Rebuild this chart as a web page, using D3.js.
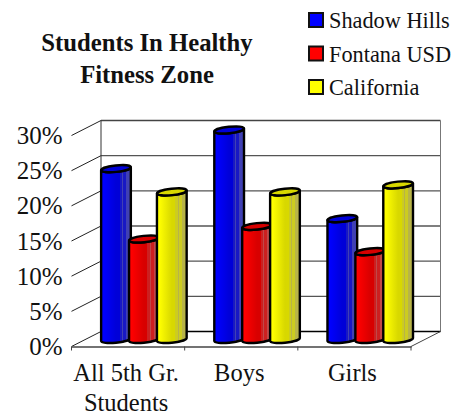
<!DOCTYPE html>
<html>
<head>
<meta charset="utf-8">
<script src="https://cdnjs.cloudflare.com/ajax/libs/d3/7.8.5/d3.min.js"></script>
<style>
  body { margin: 0; background: #fff; }
  text { font-family: "Liberation Serif", serif; fill: #111; }
</style>
</head>
<body>
<div id="wrapper"></div>
<script>
const categories = ["All 5th Gr.|Students", "Boys", "Girls"]
const seriesNames = ["Shadow Hills", "Fontana USD", "California"]
const shadowHills = [24.5, 30, 17.4]
const fontanaUsd = [14.5, 16.3, 12.7]
const california = [21.2, 21.2, 22.2]
const yTicks = [0, 5, 10, 15, 20, 25, 30]
const titleLines = ["Students In Healthy", "Fitness Zone"]

const seriesValues = [shadowHills, fontanaUsd, california]

const width = 464
const height = 414
const depthX = 29.5
const depthY = 15

const wrapper = d3.select("#wrapper")
  .append("svg")
    .attr("width", width)
    .attr("height", height)
    .style("display", "block")

const xScale = d3.scaleBand()
  .domain(categories)
  .range([71.5, 411])

const seriesScale = d3.scaleBand()
  .domain(seriesNames)
  .range([xScale.bandwidth() * 0.26, xScale.bandwidth()])

const yScale = d3.scaleLinear()
  .domain([0, 30])
  .range([346.5, 135.5])

// gradients for the cylinders
const shades = {
  "Shadow Hills": ["#0000ff", "#0000d8", "#1818c4", "#4040b4"],
  "Fontana USD": ["#ff0000", "#d80000", "#cc2020", "#c04848"],
  "California": ["#ffff00", "#d8d800", "#cccc20", "#b8b448"]
}
const defs = wrapper.append("defs")
seriesNames.forEach((name, i) => {
  const s = shades[name]
  const stops = [
    [0, s[0]], [0.08, s[0]], [0.5, s[1]], [0.62, s[1]], [0.62, s[2]],
    [0.7, s[2]], [0.7, s[3]], [0.74, s[3]], [0.74, s[2]], [0.84, s[2]],
    [0.84, s[3]], [1, s[3]]
  ]
  defs.append("linearGradient")
    .attr("id", `shade${i}`)
    .selectAll("stop")
    .data(stops)
    .enter().append("stop")
      .attr("offset", d => d[0])
      .attr("stop-color", d => d[1])
})

// back wall and floor
const wall = wrapper.append("g")
const left = xScale.range()[0]
const right = xScale.range()[1]

wall.selectAll(".grid")
  .data(yTicks.filter(d => d > 0 && d < 30))
  .enter().append("line")
    .attr("class", "grid")
    .attr("x1", left + depthX)
    .attr("x2", right + depthX)
    .attr("y1", d => yScale(d) - depthY)
    .attr("y2", d => yScale(d) - depthY)
    .attr("stroke", "#555")
    .attr("stroke-width", 1.3)

wall.selectAll(".side")
  .data(yTicks)
  .enter().append("line")
    .attr("class", "side")
    .attr("x1", left)
    .attr("x2", left + depthX)
    .attr("y1", d => yScale(d))
    .attr("y2", d => yScale(d) - depthY)
    .attr("stroke", "#222")
    .attr("stroke-width", 1)

const backLine = (x1, y1, x2, y2, color, w) => wall.append("line")
  .attr("x1", x1).attr("y1", y1).attr("x2", x2).attr("y2", y2)
  .attr("stroke", color).attr("stroke-width", w)

backLine(left + depthX, yScale(30) - depthY, right + depthX, yScale(30) - depthY, "#444", 1.6)
backLine(left + depthX, yScale(30) - depthY, left + depthX, yScale(0) - depthY, "#333", 1)
backLine(right + depthX, yScale(30) - depthY, right + depthX, yScale(0) - depthY, "#777", 1)
backLine(left + depthX, yScale(0) - depthY, right + depthX, yScale(0) - depthY, "#000", 1.6)
backLine(right, yScale(0), right + depthX, yScale(0) - depthY, "#444", 1)

// cylinders
const barBottom = v => yScale(v) - 5.5
const rx = seriesScale.bandwidth() / 2 + 0.9
const ry = 3.2
const rise = 1.5

function cylinderBody(x, yTop, yBase) {
  return `M${x},${yTop + rise} L${x},${yBase}`
    + ` A${rx},${ry} -6 0 0 ${x + rx * 2},${yBase - rise * 2}`
    + ` L${x + rx * 2},${yTop - rise} A${rx},${ry} -6 0 1 ${x},${yTop + rise} Z`
}

seriesNames.forEach((name, s) => {
  const group = wrapper.append("g").attr("class", "series")
  const bars = group.selectAll("g")
    .data(seriesValues[s])
    .enter().append("g")

  const barX = (d, i) => xScale(categories[i]) + seriesScale(name) + 0.2

  bars.append("path")
    .attr("d", (d, i) => cylinderBody(barX(d, i), barBottom(d), barBottom(0)))
    .attr("fill", `url(#shade${s})`)
    .attr("stroke", "#000")
    .attr("stroke-width", 2.4)
    .attr("stroke-linejoin", "round")

  bars.append("ellipse")
    .attr("cx", (d, i) => barX(d, i) + rx)
    .attr("cy", d => barBottom(d))
    .attr("rx", rx)
    .attr("ry", ry)
    .attr("transform", (d, i) => `rotate(-6 ${barX(d, i) + rx} ${barBottom(d)})`)
    .attr("fill", shades[name][1])
    .attr("stroke", "#000")
    .attr("stroke-width", 2.4)
})

// axes
const xAxis = wrapper.append("g")
  .attr("transform", `translate(0, ${yScale(0)})`)
  .call(d3.axisBottom(xScale).tickValues([]).tickSize(0).tickSizeOuter(0))
xAxis.select(".domain")
  .attr("stroke", "#444")
  .attr("stroke-width", 1.6)

xAxis.selectAll(".tick-mark")
  .data(categories.concat("end"))
  .enter().append("line")
    .attr("class", "tick-mark")
    .attr("x1", (d, i) => i < 3 ? xScale(d) : right)
    .attr("x2", (d, i) => i < 3 ? xScale(d) : right)
    .attr("y1", 0)
    .attr("y2", 4)
    .attr("stroke", "#444")

const labels = wrapper.selectAll(".cat")
  .data(categories)
  .enter().append("text")
    .attr("class", "cat")
    .attr("text-anchor", "middle")
    .attr("font-size", 24.5)
labels.selectAll("tspan")
  .data(d => d.split("|").map(line => ({ line, cat: d })))
  .enter().append("tspan")
    .attr("x", d => xScale(d.cat) + xScale.bandwidth() / 2 - 2)
    .attr("y", (d, i) => 380.5 + i * 30)
    .text(d => d.line)

const yAxis = wrapper.append("g")
  .attr("transform", `translate(${left}, 0)`)
  .call(d3.axisLeft(yScale).tickValues(yTicks).tickFormat(d => `${d}%`).tickSize(0).tickPadding(9))
yAxis.select(".domain").remove()
yAxis.selectAll("text")
  .attr("font-size", 25)
  .attr("font-family", "Liberation Serif")
  .style("fill", "#111")

// title
wrapper.selectAll(".title")
  .data(titleLines)
  .enter().append("text")
    .attr("class", "title")
    .attr("x", 147)
    .attr("y", (d, i) => 51 + i * 32)
    .attr("text-anchor", "middle")
    .attr("font-size", 24.7)
    .attr("font-weight", "bold")
    .text(d => d)

// legend
const legendScale = d3.scalePoint()
  .domain(seriesNames)
  .range([20, 87])
const legendColors = d3.scaleOrdinal()
  .domain(seriesNames)
  .range(["#0000ff", "#ff0000", "#ffff00"])

const legend = wrapper.selectAll(".legend")
  .data(seriesNames)
  .enter().append("g")
    .attr("class", "legend")
    .attr("transform", d => `translate(308, ${legendScale(d)})`)
legend.append("rect")
  .attr("x", 1)
  .attr("y", -7)
  .attr("width", 14)
  .attr("height", 14)
  .attr("fill", d => legendColors(d))
  .attr("stroke", "#111")
  .attr("stroke-width", 2)
legend.append("text")
  .attr("x", 21)
  .attr("y", 8)
  .attr("font-size", 22.3)
  .text(d => d)
</script>
</body>
</html>
